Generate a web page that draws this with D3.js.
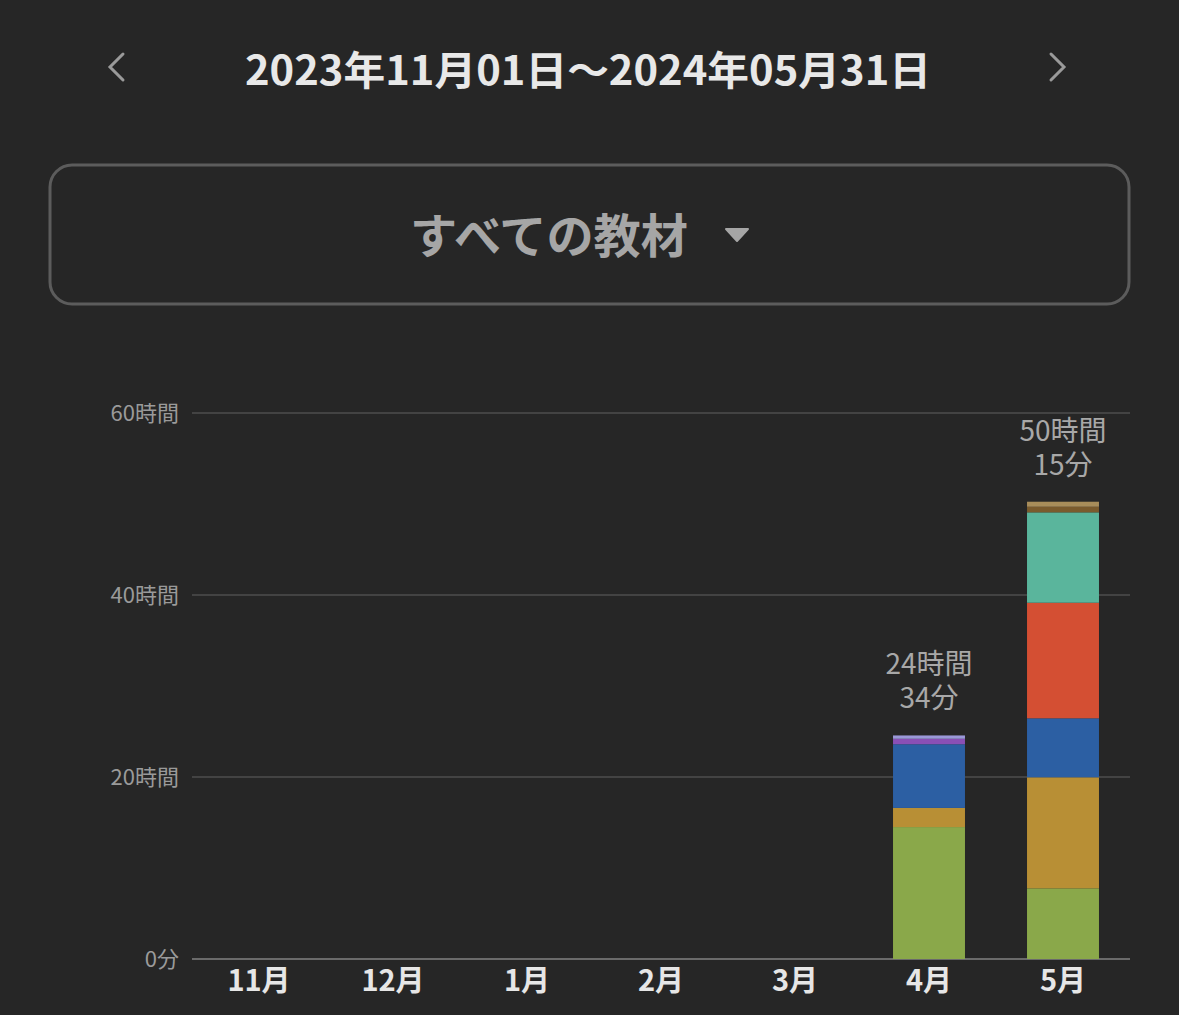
<!DOCTYPE html>
<html><head><meta charset="utf-8">
<script src="https://cdn.jsdelivr.net/npm/d3@7"></script>
<style>
html,body{margin:0;padding:0;background:#262626;}
svg{display:block;font-family:"Noto Sans CJK JP","Noto Sans",sans-serif;}
</style></head>
<body><svg id="c" width="1179" height="1015"></svg>
<script>
const titleText = "2023年11月01日〜2024年05月31日";
const filterText = "すべての教材";
const months = ["11月","12月","1月","2月","3月","4月","5月"];
// minutes per material per month
const seriesNames = ["教材1","教材2","教材3","教材4","教材5","教材6","教材7","教材8","教材9"];
const seriesColors = ["#8aa84a","#b88f35","#2c5fa3","#d44f33","#5ab59c","#7a5b2d","#a88d5a","#8a4fb5","#9a98d8"];
const s1 = [0,0,0,0,0,870,466];
const s2 = [0,0,0,0,0,126,732];
const s3 = [0,0,0,0,0,420,389];
const s4 = [0,0,0,0,0,0,762];
const s5 = [0,0,0,0,0,0,596];
const s6 = [0,0,0,0,0,0,37];
const s7 = [0,0,0,0,0,0,33];
const s8 = [0,0,0,0,0,36,0];
const s9 = [0,0,0,0,0,22,0];
const yTicks = [0,1200,2400,3600];

const seriesValues = [s1,s2,s3,s4,s5,s6,s7,s8,s9];
const table = months.map((m,i)=>{
  const row = {month:m};
  seriesNames.forEach((n,j)=>row[n]=seriesValues[j][i]);
  return row;
});

const svg = d3.select("#c");
svg.append("rect").attr("width",1179).attr("height",1015).attr("fill","#262626");

// header
svg.append("text").attr("x",588).attr("y",85).attr("text-anchor","middle")
  .attr("font-size",40).attr("font-weight",700).attr("fill","#e8e8e8")
  .attr("textLength",686).attr("lengthAdjust","spacingAndGlyphs").text(titleText);
svg.append("path").attr("d","M123,54 L110,67 L123,80").attr("fill","none").attr("stroke","#9a9a9a").attr("stroke-width",3).attr("stroke-linecap","round");
svg.append("path").attr("d","M1051,54 L1064,67 L1051,80").attr("fill","none").attr("stroke","#9a9a9a").attr("stroke-width",3).attr("stroke-linecap","round");

// dropdown box
svg.append("rect").attr("x",50).attr("y",165).attr("width",1079).attr("height",139).attr("rx",22)
  .attr("fill","none").attr("stroke","#5c5c5c").attr("stroke-width",3);
svg.append("text").attr("x",549).attr("y",253).attr("text-anchor","middle")
  .attr("font-size",47).attr("font-weight",700).attr("fill","#a6a6a6")
  .attr("textLength",278).attr("lengthAdjust","spacingAndGlyphs").text(filterText);
svg.append("path").attr("d","M726,229 L748,229 L737,241 Z").attr("fill","#a6a6a6").attr("stroke","#a6a6a6").attr("stroke-width",2).attr("stroke-linejoin","round");

// chart
const x = d3.scaleBand().domain(months).range([192,1130]).paddingInner(0.463).paddingOuter(0.2315);
const y = d3.scaleLinear().domain([0,3600]).range([959,413]);

const grid = svg.append("g");
grid.selectAll("line").data(yTicks).join("line")
  .attr("x1",192).attr("x2",1130).attr("y1",d=>y(d)).attr("y2",d=>y(d))
  .attr("stroke",d=>d===0?"#6a6a6a":"#4e4e4e").attr("stroke-width",d=>d===0?2:1.5);

const fmtY = d=> d===0 ? "0分" : (d/60)+"時間";
const yAxis = d3.axisLeft(y).tickValues(yTicks).tickFormat(fmtY).tickSize(0).tickPadding(0);
const ya = svg.append("g").attr("transform","translate(179,0)").call(yAxis);
ya.select(".domain").remove();
ya.selectAll("text").attr("font-size",22).attr("fill","#9a9a9a").attr("font-family",'"Noto Sans CJK JP",sans-serif');

const stack = d3.stack().keys(seriesNames)(table);
const color = d3.scaleOrdinal().domain(seriesNames).range(seriesColors);
svg.append("g").selectAll("g").data(stack).join("g").attr("fill",d=>color(d.key))
  .selectAll("rect").data(d=>d).join("rect")
  .attr("x",d=>x(d.data.month)).attr("width",x.bandwidth())
  .attr("y",d=>y(d[1])).attr("height",d=>y(d[0])-y(d[1]));

const totals = months.map((m,i)=>({month:m,total:d3.sum(seriesValues,s=>s[i])}));
const lbl = svg.append("g").selectAll("g").data(totals.filter(d=>d.total>0)).join("g")
  .attr("font-size",28).attr("fill","#a8a8a8").attr("text-anchor","middle");
lbl.append("text").attr("x",d=>x(d.month)+x.bandwidth()/2).attr("y",d=>y(d.total)-61)
  .text(d=>Math.floor(d.total/60)+"時間");
lbl.append("text").attr("x",d=>x(d.month)+x.bandwidth()/2).attr("y",d=>y(d.total)-27)
  .text(d=>(d.total%60)+"分");

const xAxis = d3.axisBottom(x).tickSize(0).tickPadding(0);
const xa = svg.append("g").attr("transform","translate(0,959)").call(xAxis);
xa.select(".domain").remove();
xa.selectAll("text").attr("font-size",29).attr("font-weight",700).attr("fill","#e6e6e6")
  .attr("font-family",'"Noto Sans CJK JP",sans-serif').attr("dy",null).attr("y",32);
</script></body></html>
